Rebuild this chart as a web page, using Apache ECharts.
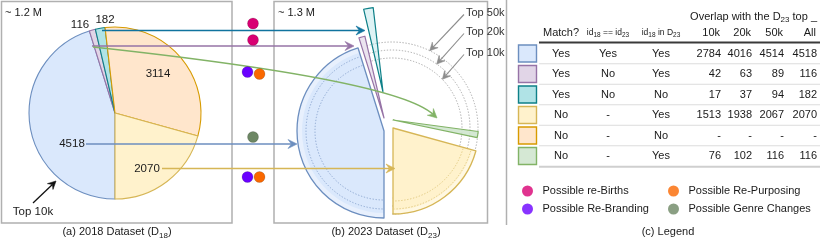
<!DOCTYPE html>
<html><head><meta charset="utf-8">
<script src="https://cdn.jsdelivr.net/npm/echarts@6/dist/echarts.min.js"></script>
<style>html,body{margin:0;padding:0;background:#fff}#c{width:822px;height:241px}</style>
</head><body><div id="c"></div>
<script>
// ---------------- DATA ----------------
const pie18Keys   = ['blue', 'purple', 'teal', 'orange', 'yellow'];   // order around the 2018 pie
const pie18Values = [4518, 116, 182, 3114, 2070];                      // Top 10k of D18
const tableKeys   = ['blue', 'purple', 'teal', 'yellow', 'orange', 'green'];
const matchCol    = ['Yes', 'Yes', 'Yes', 'No', 'No', 'No'];
const idEqCol     = ['Yes', 'No', 'No', '-', '-', '-'];
const idInCol     = ['Yes', 'Yes', 'No', 'Yes', 'No', 'Yes'];
const overlapTicks = ['10k', '20k', '50k', 'All'];
const overlap10k  = [2784, 42, 17, 1513, null, 76];
const overlap20k  = [4016, 63, 37, 1938, null, 102];
const overlap50k  = [4514, 89, 94, 2067, null, 116];
const overlapAll  = [4518, 116, 182, 2070, null, 116];
const ringLabels  = ['Top 50k', 'Top 20k', 'Top 10k'];
const legendNames = ['Possible re-Births', 'Possible Re-Branding', 'Possible Re-Purposing', 'Possible Genre Changes'];
const flowKeys    = ['teal', 'purple', 'green', 'blue', 'yellow'];
const flowTags    = [[0], [0], [1, 2], [3], [1, 2]];   // indices into legendNames

// ---------------- STYLE ----------------
const FONT = "'Liberation Sans', Arimo, Arial, Helvetica, sans-serif";
const TXT = '#1a1a1a';
const pal = {
  blue:   {fill: '#dae8fc', light: '#e8f0fd', stroke: '#6c8ebf', dot: '#8ea8d2'},
  purple: {fill: '#e1d5e7', light: 'rgba(225,213,231,0.65)', stroke: '#9673a6'},
  teal:   {fill: '#b0e3e6', light: 'rgba(176,227,230,0.42)', stroke: '#0e8088'},
  orange: {fill: '#ffe6cc', stroke: '#d79b00'},
  yellow: {fill: '#fff2cc', light: '#fff8e2', stroke: '#d6b656', dot: '#e2ca80'},
  green:  {fill: '#d5e8d4', light: 'rgba(205,228,203,0.85)', stroke: '#82b366'}
};
const arrowCol = {teal: '#10739e', purple: '#9673a6', green: '#82b366', blue: '#6c8ebf', yellow: '#d6b656'};
const legendCol = ['#d80073', '#6a00ff', '#fa6800', '#6d8764'];

// layout
const A = {c: [115, 113], r: 86};
const B = {
  ringC: [392, 128], ringR: [70, 78, 86],
  blue:   {c: [384, 131], r: 87, band: 82, dots: [69, 78]},
  purple: {c: [384, 118], r: 84},
  teal:   {c: [383, 92],  r: 85},
  green:  {c: [393, 120], r: 86, gap: 3.6},
  yellow: {c: [393, 128], r: 86, band: 82, dots: [73, 81]}
};

// ---------------- HELPERS ----------------
const total = pie18Values.reduce((a, b) => a + b, 0);
const norm = a => ((a % 360) + 360) % 360;
const toStart = clock => norm(90 - clock);
const rad = clock => (clock - 90) * Math.PI / 180;
const pt = (c, r, clock) => [c[0] + r * Math.sin(clock * Math.PI / 180), c[1] - r * Math.cos(clock * Math.PI / 180)];

const ang = {};
let acc = 180;
pie18Keys.forEach((k, i) => {
  const sw = pie18Values[i] / total * 360;
  ang[k] = {start: acc, sweep: sw, mid: acc + sw / 2};
  acc += sw;
});
const allOf = k => overlapAll[tableKeys.indexOf(k)];
const bAng = {};
['blue', 'purple', 'teal', 'yellow'].forEach(k => { bAng[k] = {start: ang[k].start, sweep: allOf(k) / total * 360}; });
{
  const sw = allOf('green') / total * 360;
  bAng.green = {start: norm(ang.yellow.start) - B.green.gap - sw, sweep: sw};
}

const series = [];
function slicePie(center, r, startClock, value, style, z) {
  series.push({
    type: 'pie', center, radius: Array.isArray(r) ? r : [0, r], startAngle: toStart(startClock), clockwise: true,
    silent: true, z, label: {show: false}, labelLine: {show: false}, emphasis: {disabled: true},
    minAngle: 0, avoidLabelOverlap: false,
    data: [{value, itemStyle: style}, {value: total - value, itemStyle: {color: 'rgba(0,0,0,0)', borderWidth: 0}}]
  });
}

const els = [];
function text(x, y, str, o = {}) {
  els.push({type: 'text', z: o.z || 30, silent: true,
    style: Object.assign({x, y, text: str, fill: TXT, fontSize: 11, fontFamily: FONT, align: 'center', verticalAlign: 'middle'}, o.style || {})});
}
function line(p1, p2, color, w, z, dash) {
  els.push({type: 'line', z: z || 20, silent: true, shape: {x1: p1[0], y1: p1[1], x2: p2[0], y2: p2[1]},
    style: {stroke: color, lineWidth: w, lineDash: dash || null}});
}
function head(tip, from, color, L = 9, W = 4.5) {
  const dx = tip[0] - from[0], dy = tip[1] - from[1], len = Math.hypot(dx, dy);
  const ux = dx / len, uy = dy / len, px = -uy, py = ux;
  const b = [tip[0] - ux * L, tip[1] - uy * L], n = [tip[0] - ux * L * 0.62, tip[1] - uy * L * 0.62];
  els.push({type: 'polygon', z: 22, silent: true,
    shape: {points: [tip, [b[0] + px * W, b[1] + py * W], n, [b[0] - px * W, b[1] - py * W]]},
    style: {fill: color, stroke: color, lineWidth: 0.6, lineJoin: 'miter'}});
  return n;
}
function arrow(from, to, color, w = 1.4, L = 9, W = 4.5) {
  const n = head(to, from, color, L, W);
  line(from, n, color, w, 21);
}
function arc(c, r, s, e, color, z, dash, w) {
  els.push({type: 'arc', z, silent: true,
    shape: {cx: c[0], cy: c[1], r, startAngle: rad(s), endAngle: rad(e), clockwise: true},
    style: {stroke: color, lineWidth: w || 1, lineDash: dash || [1.3, 1.7], fill: null}});
}
function rect(x, y, w, h, style, z) {
  els.push({type: 'rect', z: z || 0, silent: true, shape: {x, y, width: w, height: h}, style});
}
function circ(x, y, r, color, z) {
  els.push({type: 'circle', z: z || 25, silent: true, shape: {cx: x, cy: y, r}, style: {fill: color, stroke: 'rgba(0,0,0,0.25)', lineWidth: 0.6}});
}

// ---------------- PANEL BOXES ----------------
const boxStyle = {fill: null, stroke: '#b0b0b0', lineWidth: 1.5};
rect(1.5, 1.5, 230.5, 221.5, boxStyle, 0);
rect(274, 1.5, 213.5, 221.5, boxStyle, 0);
line([506.5, 0], [506.5, 225], '#b0b0b0', 1.5, 0);

// ---------------- PANEL (a) ----------------
series.push({
  type: 'pie', center: A.c, radius: [0, A.r], startAngle: toStart(180), clockwise: true, silent: true, z: 2,
  label: {show: false}, labelLine: {show: false}, emphasis: {disabled: true}, avoidLabelOverlap: false,
  data: pie18Keys.map((k, i) => ({name: k, value: pie18Values[i],
    itemStyle: {color: pal[k].fill, borderColor: pal[k].stroke, borderWidth: 1.1}}))
});
const aLabelPos = {blue: [72, 144], purple: [80, 25], teal: [105, 20], orange: [158, 74], yellow: [147, 169]};
pie18Keys.forEach((k, i) => text(aLabelPos[k][0], aLabelPos[k][1], String(pie18Values[i]), {style: {fontSize: 11.5}}));
text(5, 13, '~ 1.2 M', {style: {align: 'left'}});
text(33, 212, 'Top 10k', {style: {fontSize: 11.5}});
arrow([33, 203], [56, 181], '#111', 1.3, 8, 4);

// ---------------- PANEL (b) ----------------
text(278, 13, '~ 1.3 M', {style: {align: 'left'}});
// reference rings (Top 10k / 20k / 50k)
B.ringR.forEach(r => arc(B.ringC, r, 343, 540, '#a8a8a8', 1));
// blue & yellow: layered sectors
['blue', 'yellow'].forEach(k => {
  const g = B[k], a = bAng[k], v = allOf(k);
  slicePie(g.c, g.r, a.start, v, {color: pal[k].light, borderWidth: 0}, 3);
  slicePie(g.c, g.band, a.start, v, {color: pal[k].fill, borderWidth: 0}, 4);
  slicePie(g.c, g.r, a.start, v, {color: 'rgba(0,0,0,0)', borderColor: pal[k].stroke, borderWidth: 1.3}, 6);
  g.dots.forEach(r => arc(g.c, r, a.start + 1, a.start + a.sweep - 1, pal[k].dot, 5));
});
['purple', 'teal', 'green'].forEach(k => {
  const g = B[k], a = bAng[k];
  slicePie(g.c, g.r, a.start, allOf(k), {color: pal[k].light, borderColor: pal[k].stroke, borderWidth: 1.2}, 7);
});
// ring labels
const ringTextY = [13, 32, 53];
ringLabels.forEach((t, i) => {
  text(466, ringTextY[i], t, {style: {align: 'left', fill: '#333'}});
  const r = B.ringR[2 - i];
  const tipAng = [26, 35, 46][i];
  arrow([464, ringTextY[i] + 1.5], pt(B.ringC, r, tipAng), '#8c8c8c', 1.1, 8, 4);
});

// ---------------- FLOWS (a) -> (b) ----------------
arrow([102, 30.5], [365, 30.5], arrowCol.teal, 1.6);
arrow([92, 46], [354, 46], arrowCol.purple, 1.6);
{
  const p0 = [93, 47], c1 = [250, 64], c2 = [402, 86], p3 = [437, 118];
  const n = head(p3, c2, arrowCol.green);
  els.push({type: 'bezierCurve', z: 21, silent: true,
    shape: {x1: p0[0], y1: p0[1], cpx1: c1[0], cpy1: c1[1], cpx2: c2[0], cpy2: c2[1], x2: n[0], y2: n[1]},
    style: {stroke: arrowCol.green, lineWidth: 1.5, fill: null}});
}
arrow([86, 144], [297, 144], arrowCol.blue, 1.6);
arrow([162, 168.5], [395, 168.5], arrowCol.yellow, 1.6);
// tag dots
const tagPos = [[[253, 23.5]], [[253, 40]], [[247.5, 72], [259.5, 74]], [[253, 137]], [[247.5, 177], [259.5, 177]]];
flowTags.forEach((tags, i) => tags.forEach((t, j) => circ(tagPos[i][j][0], tagPos[i][j][1], 5.5, legendCol[t])));

// ---------------- CAPTIONS ----------------
const capRich = {s: {fontSize: 8, fontFamily: FONT, fill: TXT, padding: [7, 0, 0, 0]}};
text(117, 232, '(a) 2018 Dataset (D{s|18})', {style: {rich: capRich}});
text(386, 232, '(b) 2023 Dataset (D{s|23})', {style: {rich: capRich}});
text(668, 232, '(c) Legend');

// ---------------- TABLE (c) ----------------
const colX = {match: 561, idEq: 608, idIn: 661};
const numRight = [721, 752, 784, 817];
const row0 = 53.5, dRow = 20.5;
const subRich = {s: {fontSize: 6.5, fontFamily: FONT, fill: TXT, padding: [5, 0, 0, 0]}};
text(817, 16.5, 'Overlap with the D{s|23} top _', {style: {align: 'right', rich: {s: {fontSize: 8, fontFamily: FONT, fill: TXT, padding: [6, 0, 0, 0]}}}});
text(colX.match, 33, 'Match?');
text(colX.idEq, 33, 'id{s|18} == id{s|23}', {style: {fontSize: 8.5, rich: subRich}});
text(colX.idIn, 33, 'id{s|18} in D{s|23}', {style: {fontSize: 8.5, rich: subRich}});
overlapTicks.forEach((t, i) => text(numRight[i] - 1, 33, t, {style: {align: 'right'}}));
line([539, 42.5], [820, 42.5], '#3a3a3a', 2.2, 10);
const cols = [overlap10k, overlap20k, overlap50k, overlapAll];
tableKeys.forEach((k, i) => {
  const y = row0 + i * dRow;
  rect(518.5, y - 8.5, 18, 17, {fill: pal[k].fill, stroke: pal[k].stroke, lineWidth: 1.4}, 10);
  text(colX.match, y, matchCol[i]);
  text(colX.idEq, y, idEqCol[i]);
  text(colX.idIn, y, idInCol[i]);
  cols.forEach((c, j) => text(numRight[j], y, c[i] == null ? '-' : String(c[i]), {style: {align: 'right'}}));
  if (i < tableKeys.length - 1) line([539, y + dRow / 2], [820, y + dRow / 2], '#dcdcdc', 1, 10);
});
line([539, row0 + (tableKeys.length - 0.5) * dRow + 0.5], [820, row0 + (tableKeys.length - 0.5) * dRow + 0.5], '#cfcfcf', 2, 10);

// legend series (no marks, only used by the legend components)
legendNames.forEach((n, i) => series.push({type: 'scatter', name: n, data: [], itemStyle: {color: legendCol[i]}}));
const legendCommon = {orient: 'vertical', padding: 0, itemGap: 7, itemWidth: 20, itemHeight: 11, icon: 'circle',
  selectedMode: false, textStyle: {fontSize: 11, fontFamily: FONT, color: TXT}};

const chart = echarts.init(document.getElementById('c'), null, {renderer: 'canvas', width: 822, height: 241});
chart.setOption({
  animation: false,
  backgroundColor: '#ffffff',
  grid: {left: -100, top: -100, width: 10, height: 10, show: false},
  xAxis: {type: 'value', show: false},
  yAxis: {type: 'value', show: false},
  legend: [
    Object.assign({left: 522, top: 185.5, data: [legendNames[0], legendNames[1]]}, legendCommon),
    Object.assign({left: 668, top: 185.5, data: [legendNames[2], legendNames[3]]}, legendCommon)
  ],
  series,
  graphic: {elements: els}
});
</script></body></html>
